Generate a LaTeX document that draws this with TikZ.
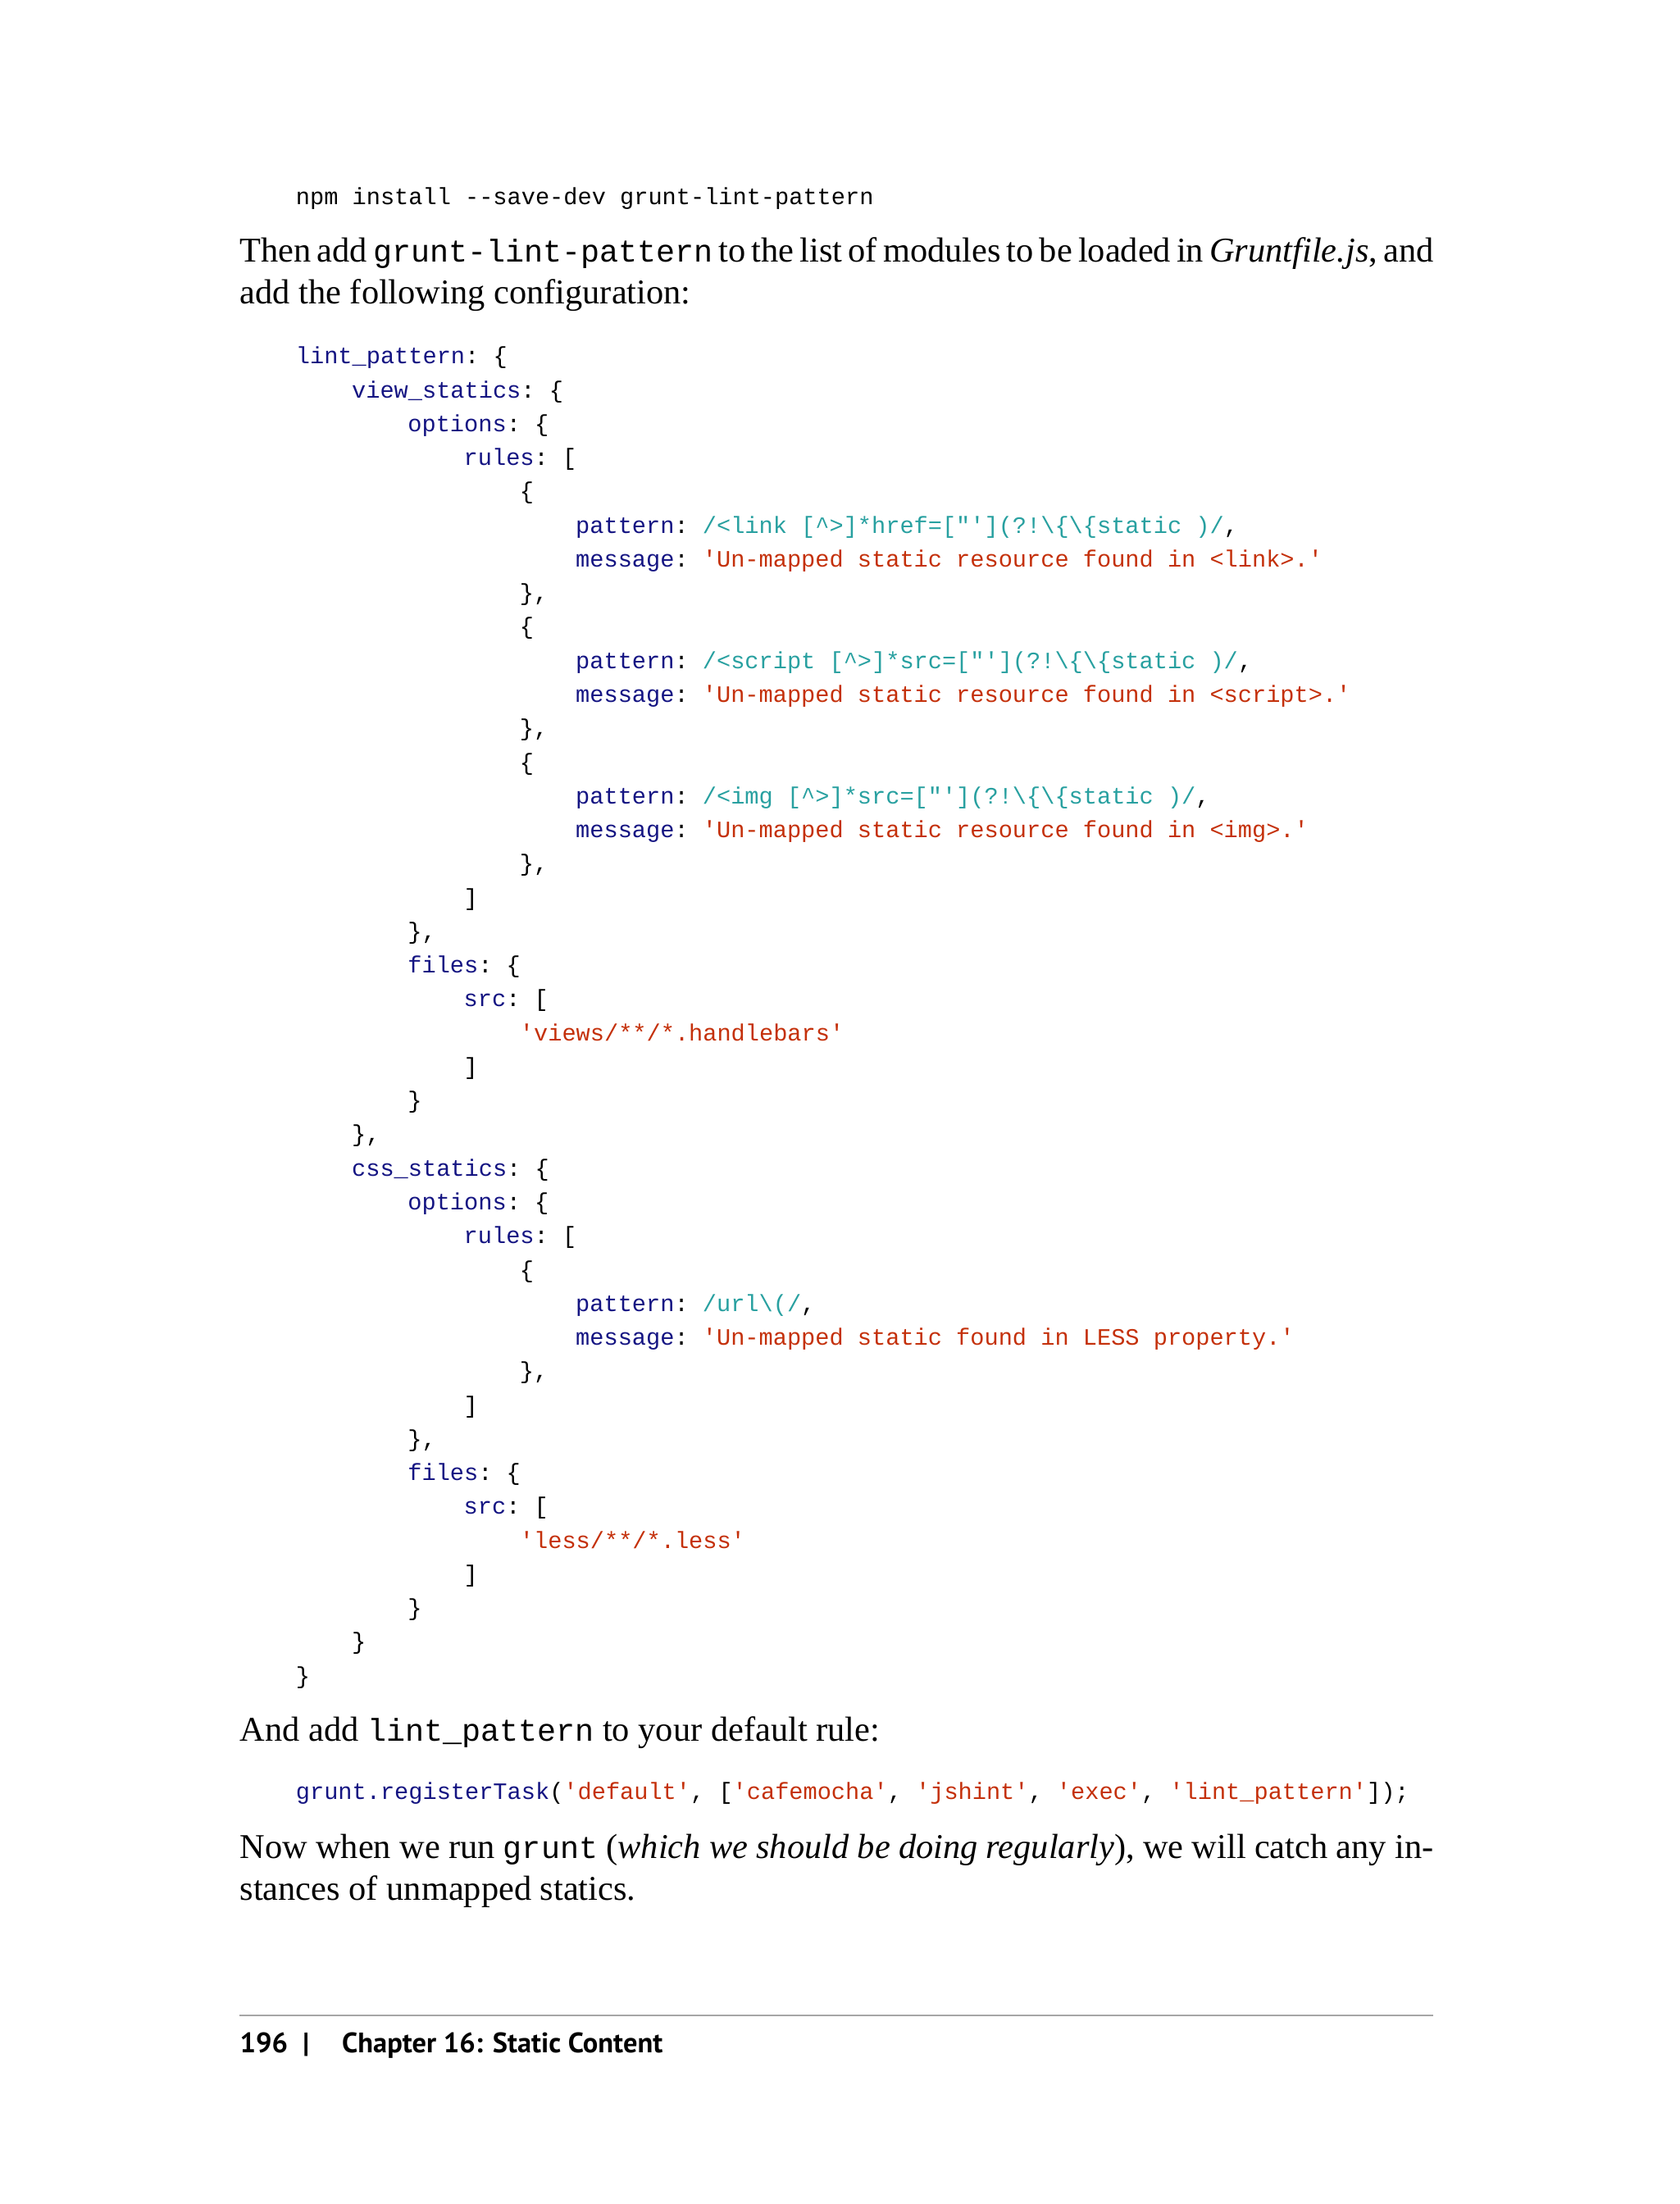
\documentclass[tikz,border=0pt]{standalone}
\usepackage{fontspec}
\setmainfont{Liberation Serif}
\setmonofont{Liberation Mono}
\newfontfamily\footfont{PT Sans}
\definecolor{kw}{RGB}{20,20,130}
\definecolor{pat}{RGB}{40,160,160}
\definecolor{str}{RGB}{196,48,10}
\newcommand{\K}[1]{\textcolor{kw}{#1}}
\newcommand{\PT}[1]{\textcolor{pat}{#1}}
\newcommand{\SR}[1]{\textcolor{str}{#1}}
\newcommand{\cl}[3]{\node[codeline] at ({211+40*#1},{-(#2+6)}) {#3};}
\newcommand{\bl}[2]{\node[bodyline] at (171,{-(#1+7)}) {#2};}
\begin{document}
\begin{tikzpicture}[x=0.42667pt,y=0.42667pt,
 codeline/.style={anchor=base west,inner sep=0pt,font=\fontsize{7.16pt}{8pt}\ttfamily},
 bodyline/.style={anchor=base west,inner sep=0pt,font=\fontsize{10.6pt}{12pt}\selectfont}]
\useasboundingbox (0,0) rectangle (1200,-1575);
\cl{0}{140}{npm install --save-dev grunt-lint-pattern}
\bl{180}{\makebox[853\dimexpr0.42667pt\relax][s]{Then add {\fontsize{9.6pt}{10pt}\ttfamily grunt-lint-pattern} to the list of modules to be loaded in \textit{Gruntfile.js}, and}}
\bl{210}{add the following configuration:}
\cl{0}{254}{\K{lint\_pattern}: \{}
\cl{1}{278.2}{\K{view\_statics}: \{}
\cl{2}{302.4}{\K{options}: \{}
\cl{3}{326.5}{\K{rules}: [}
\cl{4}{350.7}{\{}
\cl{5}{374.9}{\K{pattern}: \PT{/<link [\textasciicircum>]*href=["'](?!\textbackslash\{\textbackslash\{static )/},}
\cl{5}{399.1}{\K{message}: \SR{'Un-mapped static resource found in <link>.'}}
\cl{4}{423.3}{\},}
\cl{4}{447.4}{\{}
\cl{5}{471.6}{\K{pattern}: \PT{/<script [\textasciicircum>]*src=["'](?!\textbackslash\{\textbackslash\{static )/},}
\cl{5}{495.8}{\K{message}: \SR{'Un-mapped static resource found in <script>.'}}
\cl{4}{520}{\},}
\cl{4}{544.2}{\{}
\cl{5}{568.3}{\K{pattern}: \PT{/<img [\textasciicircum>]*src=["'](?!\textbackslash\{\textbackslash\{static )/},}
\cl{5}{592.5}{\K{message}: \SR{'Un-mapped static resource found in <img>.'}}
\cl{4}{616.7}{\},}
\cl{3}{640.9}{]}
\cl{2}{665.1}{\},}
\cl{2}{689.2}{\K{files}: \{}
\cl{3}{713.4}{\K{src}: [}
\cl{4}{737.6}{\SR{'views/**/*.handlebars'}}
\cl{3}{761.8}{]}
\cl{2}{786}{\}}
\cl{1}{810.1}{\},}
\cl{1}{834.3}{\K{css\_statics}: \{}
\cl{2}{858.5}{\K{options}: \{}
\cl{3}{882.7}{\K{rules}: [}
\cl{4}{906.9}{\{}
\cl{5}{931}{\K{pattern}: \PT{/url\textbackslash(/},}
\cl{5}{955.2}{\K{message}: \SR{'Un-mapped static found in LESS property.'}}
\cl{4}{979.4}{\},}
\cl{3}{1003.6}{]}
\cl{2}{1027.8}{\},}
\cl{2}{1051.9}{\K{files}: \{}
\cl{3}{1076.1}{\K{src}: [}
\cl{4}{1100.3}{\SR{'less/**/*.less'}}
\cl{3}{1124.5}{]}
\cl{2}{1148.7}{\}}
\cl{1}{1172.8}{\}}
\cl{0}{1197}{\}}
\bl{1237}{And add {\fontsize{9.6pt}{10pt}\ttfamily lint\_pattern} to your default rule:}
\cl{0}{1280}{\K{grunt.registerTask}(\SR{'default'}, [\SR{'cafemocha'}, \SR{'jshint'}, \SR{'exec'}, \SR{'lint\_pattern'}]);}
\bl{1321}{\makebox[853\dimexpr0.42667pt\relax][s]{Now when we run {\fontsize{9.6pt}{10pt}\ttfamily grunt} (\textit{which we should be doing regularly}), we will catch any in-}}
\bl{1351}{stances of unmapped statics.}
\draw[gray!70,line width=0.5pt] (171,-1440) -- (1024,-1440);
\node[anchor=base west,inner sep=0pt,font=\footfont\bfseries\fontsize{8.6pt}{10pt}\selectfont] (pg) at (171,-1467) {196};
\node[anchor=base west,inner sep=0pt,font=\footfont\bfseries\fontsize{8.6pt}{10pt}\selectfont] (bar) at (216,-1467) {|};
\node[anchor=base west,inner sep=0pt,font=\footfont\bfseries\fontsize{8.6pt}{10pt}\selectfont] (ch) at (244,-1467) {Chapter 16: Static Content};
\end{tikzpicture}
\end{document}
